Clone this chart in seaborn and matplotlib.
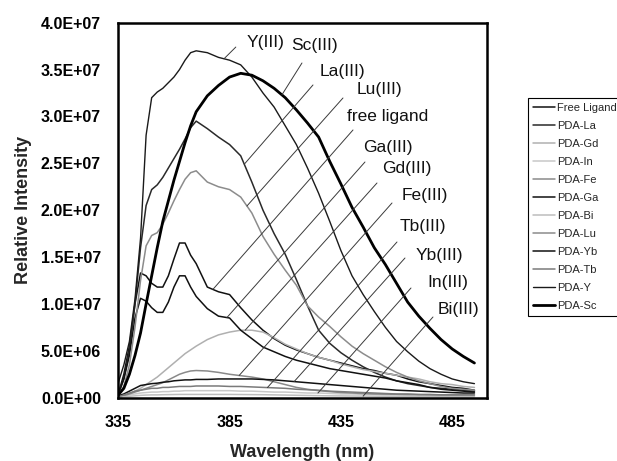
import numpy as np
import matplotlib
matplotlib.use("Agg")
import matplotlib.pyplot as plt
from matplotlib.ticker import FuncFormatter
import seaborn as sns

# ---------------- data (intensity in units of 1e7) ----------------
wavelength = [335, 337.5, 340, 342.5, 345, 347.5, 350, 352.5, 355, 357.5, 360, 362.5, 365, 367.5,
              370, 375, 380, 385, 390, 395, 400, 405, 410, 415, 420, 425, 430, 435, 440, 445,
              450, 455, 460, 465, 470, 475, 480, 485, 490, 495]
SCALE = 1e7

free_ligand = [0.04, 0.25, 0.55, 1.0, 1.33, 1.3, 1.22, 1.18, 1.18, 1.3, 1.48, 1.65, 1.65, 1.52, 1.43,
               1.18, 1.13, 1.1, 0.96, 0.83, 0.72, 0.63, 0.56, 0.51, 0.47, 0.43, 0.4, 0.37, 0.34, 0.31,
               0.29, 0.26, 0.24, 0.2, 0.17, 0.15, 0.13, 0.11, 0.1, 0.08]
pda_la = [0.05, 0.2, 0.5, 1.0, 1.6, 2.05, 2.22, 2.27, 2.35, 2.45, 2.55, 2.65, 2.76, 2.88, 2.95,
          2.87, 2.78, 2.7, 2.58, 2.3, 2.0, 1.75, 1.53, 1.26, 0.98, 0.72, 0.58, 0.48, 0.4, 0.33,
          0.27, 0.22, 0.18, 0.15, 0.13, 0.11, 0.1, 0.09, 0.08, 0.07]
pda_gd = [0.0, 0.02, 0.04, 0.07, 0.1, 0.14, 0.18, 0.22, 0.27, 0.32, 0.37, 0.42, 0.47, 0.51, 0.55,
          0.62, 0.67, 0.7, 0.72, 0.72, 0.7, 0.64, 0.57, 0.52, 0.47, 0.43, 0.4, 0.36, 0.33, 0.3,
          0.28, 0.26, 0.24, 0.22, 0.2, 0.17, 0.15, 0.14, 0.12, 0.11]
pda_in = [0.01, 0.02, 0.03, 0.04, 0.05, 0.055, 0.06, 0.06, 0.065, 0.065, 0.07, 0.07, 0.075, 0.075, 0.075,
          0.075, 0.075, 0.075, 0.07, 0.07, 0.065, 0.06, 0.06, 0.055, 0.05, 0.05, 0.045, 0.04, 0.04, 0.035,
          0.035, 0.03, 0.03, 0.025, 0.025, 0.025, 0.02, 0.02, 0.02, 0.02]
pda_fe = [0.0, 0.02, 0.04, 0.06, 0.08, 0.1, 0.12, 0.14, 0.16, 0.19, 0.22, 0.25, 0.27, 0.285, 0.29,
          0.285, 0.27, 0.25, 0.235, 0.22, 0.2, 0.17, 0.14, 0.11, 0.09, 0.075, 0.065, 0.055, 0.05, 0.045,
          0.04, 0.038, 0.036, 0.034, 0.032, 0.03, 0.03, 0.03, 0.03, 0.03]
pda_ga = [0.03, 0.2, 0.45, 0.85, 1.06, 1.03, 0.96, 0.91, 0.91, 1.02, 1.18, 1.3, 1.3, 1.18, 1.08,
          0.95, 0.87, 0.85, 0.72, 0.63, 0.54, 0.49, 0.44, 0.4, 0.37, 0.34, 0.31, 0.29, 0.27, 0.25,
          0.23, 0.21, 0.18, 0.16, 0.14, 0.11, 0.09, 0.08, 0.07, 0.06]
pda_bi = [0.005, 0.01, 0.015, 0.02, 0.025, 0.028, 0.03, 0.03, 0.032, 0.033, 0.034, 0.035, 0.035, 0.035, 0.035,
          0.035, 0.035, 0.035, 0.034, 0.033, 0.032, 0.03, 0.028, 0.026, 0.024, 0.022, 0.02, 0.019, 0.018, 0.017,
          0.016, 0.015, 0.014, 0.013, 0.012, 0.012, 0.011, 0.011, 0.01, 0.01]
pda_lu = [0.03, 0.12, 0.35, 0.75, 1.25, 1.62, 1.73, 1.76, 1.85, 1.97, 2.1, 2.22, 2.33, 2.4, 2.42,
          2.3, 2.25, 2.22, 2.14, 1.97, 1.72, 1.53, 1.36, 1.2, 0.98, 0.86, 0.76, 0.65, 0.55, 0.47,
          0.4, 0.33, 0.27, 0.22, 0.18, 0.15, 0.12, 0.1, 0.09, 0.08]
pda_yb = [0.02, 0.04, 0.07, 0.1, 0.13, 0.14, 0.15, 0.155, 0.165, 0.17, 0.18, 0.185, 0.19, 0.19, 0.195,
          0.195, 0.2, 0.2, 0.2, 0.2, 0.195, 0.19, 0.18, 0.17, 0.16, 0.15, 0.14, 0.13, 0.12, 0.11,
          0.1, 0.09, 0.08, 0.075, 0.07, 0.065, 0.06, 0.055, 0.05, 0.05]
pda_tb = [0.01, 0.03, 0.05, 0.07, 0.08, 0.09, 0.1, 0.1, 0.11, 0.11, 0.115, 0.12, 0.12, 0.12, 0.125,
          0.125, 0.125, 0.12, 0.12, 0.115, 0.11, 0.105, 0.1, 0.09, 0.085, 0.08, 0.07, 0.065, 0.06, 0.055,
          0.05, 0.045, 0.04, 0.04, 0.035, 0.035, 0.03, 0.03, 0.03, 0.03]
pda_y = [0.16, 0.35, 0.6, 1.05, 1.7, 2.8, 3.2, 3.26, 3.3, 3.36, 3.42, 3.5, 3.6, 3.68, 3.7,
         3.68, 3.63, 3.6, 3.55, 3.42, 3.25, 3.1, 2.9, 2.7, 2.45, 2.18, 1.88, 1.57, 1.3, 1.1,
         0.92, 0.75, 0.6, 0.49, 0.39, 0.31, 0.25, 0.2, 0.17, 0.15]
pda_sc = [0.03, 0.1, 0.25, 0.45, 0.69, 1.0, 1.3, 1.6, 1.88, 2.1, 2.32, 2.52, 2.72, 2.9, 3.05,
          3.22, 3.33, 3.42, 3.46, 3.44, 3.38, 3.3, 3.2, 3.07, 2.93, 2.78, 2.52, 2.28, 2.03, 1.82,
          1.6, 1.42, 1.22, 1.02, 0.87, 0.74, 0.62, 0.52, 0.44, 0.37]

series_names = ["Free Ligand", "PDA-La", "PDA-Gd", "PDA-In", "PDA-Fe", "PDA-Ga",
                "PDA-Bi", "PDA-Lu", "PDA-Yb", "PDA-Tb", "PDA-Y", "PDA-Sc"]
series_values = [free_ligand, pda_la, pda_gd, pda_in, pda_fe, pda_ga,
                 pda_bi, pda_lu, pda_yb, pda_tb, pda_y, pda_sc]
series_colors = ["#111111", "#2a2a2a", "#b0b0b0", "#c8c8c8", "#8a8a8a", "#111111",
                 "#bdbdbd", "#8c8c8c", "#111111", "#7a7a7a", "#1a1a1a", "#000000"]
series_widths = [1.1, 1.1, 1.1, 1.1, 1.1, 1.1, 1.1, 1.1, 1.1, 1.1, 1.0, 2.0]

# annotation labels: text, series it points to, wavelength on the curve
ann_text = ["Y(III)", "Sc(III)", "La(III)", "Lu(III)", "free ligand", "Ga(III)",
            "Gd(III)", "Fe(III)", "Tb(III)", "Yb(III)", "In(III)", "Bi(III)"]
ann_series = ["PDA-Y", "PDA-Sc", "PDA-La", "PDA-Lu", "Free Ligand", "PDA-Ga",
              "PDA-Gd", "PDA-Fe", "PDA-Tb", "PDA-Yb", "PDA-In", "PDA-Bi"]
ann_wave = [382.5, 408.5, 391.6, 392.8, 377.5, 383.8, 392.0, 389.3, 402.0, 414.0, 424.7, 445.0]
# layout (axes fraction) of label text and leader-line start
ann_text_pos = [(0.347, 0.948), (0.4706, 0.940), (0.5475, 0.8685), (0.6479, 0.8205),
                (0.6208, 0.7485), (0.6642, 0.6685), (0.7158, 0.6125), (0.7701, 0.5405),
                (0.7647, 0.4552), (0.8081, 0.3805), (0.8379, 0.3085), (0.8678, 0.2365)]
ann_line_start = [(0.319, 0.935), (0.4986, 0.8925), (0.5285, 0.8339), (0.6099, 0.7992),
                  (0.6371, 0.7139), (0.6696, 0.6285), (0.7022, 0.5725), (0.7430, 0.5192),
                  (0.7565, 0.4152), (0.7782, 0.3725), (0.7945, 0.2925), (0.8542, 0.2152)]

# ---------------- style ----------------
sns.set_style("white")
plt.rcParams["font.family"] = ["Liberation Sans", "DejaVu Sans"]

fig = plt.figure(figsize=(6.17, 4.61), dpi=100)
ax = fig.add_axes([0.1917, 0.1373, 0.7888 - 0.1917, 0.9508 - 0.1373])

x = np.array(wavelength, dtype=float)
for name, vals, col, lw in zip(series_names, series_values, series_colors, series_widths):
    sns.lineplot(x=x, y=np.array(vals) * SCALE, ax=ax, color=col, linewidth=lw,
                 label=name, estimator=None, sort=False)

# leader lines and labels
lookup = dict(zip(series_names, series_values))
for txt, sname, wv, tpos, lstart in zip(ann_text, ann_series, ann_wave, ann_text_pos, ann_line_start):
    yv = np.interp(wv, x, np.array(lookup[sname]) * SCALE)
    ax.annotate("", xy=(wv, yv), xycoords="data", xytext=lstart, textcoords="axes fraction",
                arrowprops=dict(arrowstyle="-", lw=0.7, color="#3a3a3a", shrinkA=0, shrinkB=0))
    ax.text(tpos[0], tpos[1], txt, transform=ax.transAxes, ha="left", va="center",
            fontsize=12.5, color="#111111")

ax.set_xlim(335, 500.5)
ax.set_ylim(0, 4e7)
ax.set_xticks([335, 385, 435, 485])
ax.set_yticks(np.arange(0, 4.01e7, 5e6))
ax.yaxis.set_major_formatter(FuncFormatter(lambda v, p: f"{v:.1E}"))
ax.tick_params(axis="both", direction="out", length=4.5, width=1.5, labelsize=11.5, pad=8,
               colors="black")
for lab in ax.get_xticklabels() + ax.get_yticklabels():
    lab.set_fontweight("bold")
for sp in ax.spines.values():
    sp.set_visible(True)
    sp.set_linewidth(1.8)
    sp.set_color("black")

ax.set_xlabel("Wavelength (nm)", fontsize=13, fontweight="bold", labelpad=10)
ax.set_ylabel("Relative Intensity", fontsize=13, fontweight="bold", labelpad=6)

handles, labels = ax.get_legend_handles_labels()
ax.get_legend().remove()
leg = fig.legend(handles, labels, loc="upper left", bbox_to_anchor=(0.8558, 0.7874),
                 bbox_transform=fig.transFigure, fontsize=8, frameon=True, fancybox=False,
                 framealpha=1, edgecolor="black", borderpad=0.45, labelspacing=0.72,
                 handlelength=2.0, handletextpad=0.2, borderaxespad=0)
leg.get_frame().set_linewidth(0.8)

fig.savefig("out.png", dpi=100, facecolor="white")
